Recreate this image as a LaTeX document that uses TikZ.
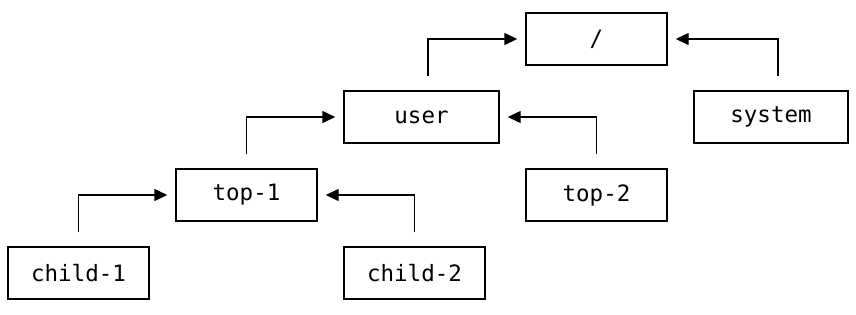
\documentclass[tikz,border=0pt]{standalone}
\usepackage{fontspec}
\setmonofont{DejaVu Sans Mono}
\usetikzlibrary{arrows.meta}
\begin{document}
\begin{tikzpicture}[x=1pt,y=-1pt,
  box/.style={draw=black, line width=1.4pt, minimum height=52pt, inner sep=0pt,
    font=\ttfamily\fontsize{22.5}{24}\selectfont},
  conn/.style={draw=black, line width=1.4pt, -{Triangle[length=13pt,width=12pt]},
    shorten <=14pt, shorten >=8pt}]
\useasboundingbox (0,0) rectangle (856,314);
\node[box, minimum width=141pt] (root) at (596.5,39) {/};
\node[box, minimum width=155pt] (user) at (421.5,117) {user};
\node[box, minimum width=154pt] (system) at (771,117) {system};
\node[box, minimum width=141pt] (top1) at (246.5,195) {top-1};
\node[box, minimum width=141pt] (top2) at (596.5,195) {top-2};
\node[box, minimum width=141pt] (child1) at (78.5,273) {child-1};
\node[box, minimum width=141pt] (child2) at (414.5,273) {child-2};
\draw[conn] (child1.north) |- (top1.west);
\draw[conn] (child2.north) |- (top1.east);
\draw[conn] (top1.north) |- (user.west);
\draw[conn] (top2.north) |- (user.east);
\draw[conn] (user.north) ++(6.5,0) |- (root.west);
\draw[conn] (system.north) ++(7,0) |- (root.east);
\end{tikzpicture}
\end{document}
